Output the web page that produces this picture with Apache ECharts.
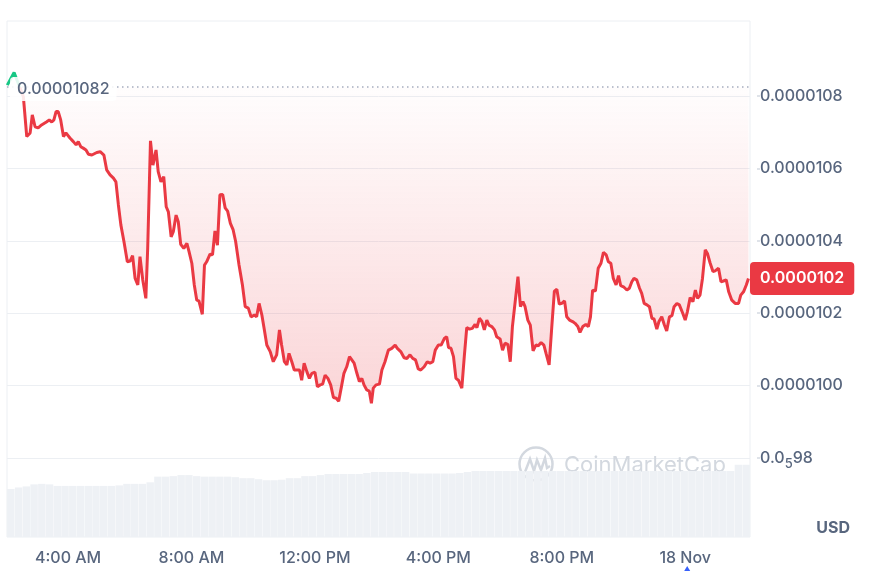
<!DOCTYPE html>
<html>
<head>
<meta charset="utf-8">
<script src="https://cdn.jsdelivr.net/npm/echarts@6/dist/echarts.min.js"></script>
<style>
html,body{margin:0;padding:0;background:#fff;}
#chart{width:869px;height:571px;}
</style>
</head>
<body>
<div id="chart"></div>
<script>
// time in hours since 00:00 17 Nov; price in units of 1e-7 USD
const windowStart = 2.02;
const windowEnd = 26.10;
const priceTimes = [2.03,2.25,2.55,2.66,2.77,2.84,2.93,3.03,3.14,3.31,3.39,3.47,3.54,3.61,3.68,3.76,3.85,3.93,4.06,4.17,4.26,4.33,4.41,4.49,4.58,4.66,4.77,4.93,5.04,5.16,5.25,5.36,5.47,5.55,5.63,5.71,5.81,5.92,6.01,6.09,6.17,6.26,6.33,6.42,6.52,6.58,6.67,6.75,6.85,6.92,7.01,7.10,7.18,7.25,7.34,7.41,7.50,7.57,7.65,7.75,7.85,7.92,8.01,8.09,8.17,8.24,8.35,8.42,8.49,8.60,8.68,8.76,8.84,8.92,9.01,9.09,9.17,9.26,9.35,9.43,9.54,9.65,9.74,9.84,9.93,10.04,10.11,10.19,10.28,10.36,10.44,10.55,10.65,10.76,10.85,10.92,11.01,11.09,11.16,11.25,11.33,11.39,11.50,11.57,11.65,11.74,11.82,11.90,12.00,12.08,12.17,12.25,12.33,12.42,12.51,12.60,12.69,12.77,12.87,12.94,13.03,13.12,13.18,13.27,13.36,13.44,13.52,13.59,13.68,13.76,13.83,13.89,13.98,14.09,14.17,14.27,14.38,14.49,14.60,14.67,14.78,14.89,14.98,15.08,15.17,15.26,15.35,15.43,15.54,15.64,15.73,15.82,15.90,16.00,16.09,16.20,16.27,16.33,16.41,16.49,16.57,16.65,16.76,16.84,16.92,17.01,17.10,17.19,17.25,17.33,17.41,17.49,17.57,17.64,17.73,17.82,17.89,18.00,18.08,18.16,18.25,18.33,18.40,18.49,18.58,18.66,18.74,18.81,18.90,18.98,19.07,19.16,19.24,19.33,19.42,19.49,19.59,19.68,19.76,19.84,19.92,20.00,20.09,20.16,20.25,20.35,20.43,20.52,20.59,20.68,20.78,20.86,20.93,21.00,21.09,21.18,21.27,21.35,21.44,21.51,21.59,21.67,21.76,21.84,21.91,22.00,22.11,22.19,22.27,22.34,22.43,22.52,22.59,22.67,22.76,22.84,22.92,22.99,23.08,23.15,23.24,23.32,23.40,23.49,23.57,23.64,23.73,23.81,23.92,24.00,24.07,24.16,24.25,24.33,24.40,24.48,24.56,24.65,24.72,24.81,24.90,24.97,25.08,25.16,25.24,25.33,25.41,25.51,25.62,25.73,25.80,25.89,25.98,26.05];
const priceValues = [108.30,108.65,107.98,106.88,106.98,107.48,107.15,107.12,107.20,107.29,107.34,107.28,107.34,107.57,107.57,107.34,106.88,106.98,106.84,106.74,106.65,106.74,106.60,106.56,106.51,106.39,106.37,106.44,106.46,106.37,105.96,105.82,105.73,105.63,104.99,104.44,103.98,103.42,103.44,103.59,102.97,102.78,103.56,102.92,102.41,103.80,106.76,106.09,106.51,105.91,105.63,105.77,104.94,104.80,104.11,104.25,104.71,104.53,103.90,103.79,103.93,103.70,103.38,102.78,102.36,102.34,101.97,103.33,103.42,103.63,103.61,104.27,103.88,105.27,105.28,104.91,104.82,104.48,104.30,103.98,103.33,102.78,102.18,102.14,101.90,101.95,101.90,102.27,101.95,101.54,101.12,100.94,100.66,100.85,101.54,101.12,100.66,100.57,100.89,100.66,100.43,100.40,100.43,100.15,100.62,100.38,100.20,100.34,100.37,99.97,100.02,100.04,100.29,100.20,100.02,99.67,99.65,99.57,100.02,100.34,100.52,100.80,100.85,100.62,100.34,100.11,100.20,100.02,99.88,99.85,99.51,99.93,100.02,100.04,100.43,100.66,100.98,101.03,101.12,101.03,100.94,100.77,100.75,100.85,100.75,100.71,100.46,100.43,100.52,100.66,100.62,100.66,100.98,101.12,101.12,101.31,101.35,101.05,101.03,100.80,100.20,100.15,99.93,100.80,101.60,101.56,101.58,101.69,101.60,101.86,101.77,101.54,101.81,101.67,101.63,101.54,101.35,101.29,100.98,101.17,101.14,100.66,101.63,102.32,103.01,102.18,102.32,102.18,101.81,101.67,100.96,101.12,101.10,101.19,101.12,100.89,100.57,101.67,102.61,102.66,102.25,102.27,102.34,101.90,101.81,101.77,101.72,101.63,101.47,101.63,101.69,101.63,101.90,102.64,102.61,103.24,103.38,103.68,103.61,103.42,103.38,102.96,102.78,103.04,102.76,102.73,102.64,102.69,102.87,102.96,102.92,102.69,102.55,102.27,102.23,102.18,101.86,101.84,101.56,101.77,101.90,101.69,101.51,101.90,101.93,102.18,102.27,102.23,102.00,101.81,102.04,102.43,102.32,102.64,102.41,102.50,102.96,103.75,103.65,103.38,103.15,103.17,103.24,102.87,102.89,102.92,102.59,102.36,102.27,102.27,102.50,102.59,102.78,102.96];
// 15-minute volume bars (relative units)
const volumeValues = [9.3,9.6,9.8,10.2,10.3,10.2,9.9,9.9,9.9,9.9,9.9,9.9,9.9,9.9,10.0,10.3,10.3,10.3,10.6,11.7,11.7,11.8,12.0,12.0,11.8,11.7,11.7,11.7,11.7,11.6,11.4,11.4,11.2,11.0,11.0,11.1,11.4,11.4,11.8,11.8,12.0,12.2,12.2,12.2,12.2,12.2,12.4,12.6,12.6,12.6,12.6,12.6,12.3,12.3,12.3,12.3,12.3,12.3,12.4,12.6,12.8,12.8,12.8,12.8,12.8,12.8,12.8,12.8,12.8,12.8,12.8,12.8,12.8,12.8,12.8,12.8,12.8,12.8,12.8,12.8,12.8,12.8,12.8,12.8,12.8,12.8,12.8,12.8,12.8,12.8,12.8,12.8,12.8,12.8,14.0,14.0];
const refPrice = 108.25;
const refPriceLabel = '0.00001082';
const lastPriceLabel = '0.0000102';
const yTickValues = [98,100,102,104,106,108];
const yTickLabels = ['0.0{sub|5}98','0.0000100','0.0000102','0.0000104','0.0000106','0.0000108'];
const xTickValues = [4,8,12,16,20,24];
const xTickLabels = ['4:00 AM','8:00 AM','12:00 PM','4:00 PM','8:00 PM','18 Nov'];
const eventMarkerTime = 24;

const RED = '#ea3943', GREEN = '#16c784', GREY = '#58667e', FONT = 'Inter';
const priceData = priceTimes.map((t, i) => [t, priceValues[i]]);
const lastPrice = priceValues[priceValues.length - 1];

const chart = echarts.init(document.getElementById('chart'), null, {renderer: 'canvas'});
const option = {
  animation: false,
  grid: [
    {left: 7, right: 119, top: 23.6, bottom: 40.6},
    {left: 7, right: 119, top: 21, bottom: 34, show: true, borderColor: '#eceff3', borderWidth: 1}
  ],
  xAxis: [
    {
      gridIndex: 0, type: 'value', min: windowStart, max: windowEnd,
      axisLine: {show: false}, axisTick: {show: false}, splitLine: {show: false},
      axisLabel: {
        customValues: xTickValues,
        formatter: v => xTickLabels[xTickValues.indexOf(Math.round(v))] || '',
        color: GREY, fontFamily: FONT, fontSize: 16, fontWeight: 500, margin: 20
      }
    },
    {gridIndex: 1, type: 'category', data: volumeValues.map((v, i) => i), show: false, boundaryGap: true}
  ],
  yAxis: [
    {
      gridIndex: 0, type: 'value', position: 'right', min: 96, max: 110, interval: 2,
      axisLine: {show: false}, axisTick: {show: false},
      splitLine: {show: true, showMinLine: false, showMaxLine: false, lineStyle: {color: '#eceff3', width: 1}},
      axisLabel: {
        customValues: yTickValues,
        formatter: v => yTickLabels[yTickValues.indexOf(Math.round(v))] || '',
        color: GREY, fontFamily: FONT, fontSize: 16, fontWeight: 500, margin: 10,
        rich: {sub: {fontSize: 13, fontWeight: 500, color: GREY, fontFamily: FONT, padding: [13, 0, 0, 0]}}
      }
    },
    {gridIndex: 1, type: 'value', min: 0, max: 100, show: false},
    {
      gridIndex: 0, type: 'value', position: 'right', offset: 7, min: 96, max: 110, interval: 2,
      axisLine: {show: false}, splitLine: {show: false}, axisLabel: {show: false},
      axisTick: {show: true, length: 3, customValues: yTickValues, lineStyle: {color: '#d5dae2', width: 1.5}}
    }
  ],
  series: [
    {
      type: 'bar', xAxisIndex: 1, yAxisIndex: 1, data: volumeValues, silent: true,
      barCategoryGap: '4%', itemStyle: {color: '#eef1f5'}, z: 1
    },
    {
      id: 'price', type: 'line', xAxisIndex: 0, yAxisIndex: 0, data: priceData, showSymbol: false,
      lineStyle: {width: 3, color: RED}, z: 3,
      areaStyle: {
        origin: refPrice,
        color: new echarts.graphic.LinearGradient(0, 0, 0, 1, [
          {offset: 0, color: 'rgba(234,57,67,0.0)'},
          {offset: 1, color: 'rgba(234,57,67,0.30)'}
        ])
      },
      markLine: {
        silent: true, symbol: 'none',
        data: [
          {yAxis: refPrice, lineStyle: {color: '#a6adbf', width: 1.5, type: [1.5, 3.5]}, label: {show: false}},
          {yAxis: lastPrice, lineStyle: {color: 'rgba(0,0,0,0)', width: 0}, label: {
            show: true, position: 'end', distance: 0, formatter: lastPriceLabel,
            color: '#fff', backgroundColor: RED, borderRadius: 4, padding: [9, 10, 8, 10],
            fontFamily: FONT, fontSize: 16, fontWeight: 600
          }}
        ]
      }
    }
  ]
};
chart.setOption(option);

const refPx = chart.convertToPixel({gridIndex: 0}, [windowStart, refPrice]);
const eventPx = chart.convertToPixel({gridIndex: 0}, [eventMarkerTime, refPrice]);
chart.setOption({
  series: [{}, {
    id: 'price',
    lineStyle: {
      color: new echarts.graphic.LinearGradient(0, refPx[1] - 1, 0, refPx[1] + 1, [
        {offset: 0, color: GREEN}, {offset: 0.5, color: GREEN},
        {offset: 0.5, color: RED}, {offset: 1, color: RED}
      ], true)
    }
  }],
  graphic: [
    {
      type: 'text', x: refPx[0] + 3, y: refPx[1] + 2, z: 100,
      style: {
        text: refPriceLabel, fill: GREY, font: '500 16px Inter', verticalAlign: 'middle',
        backgroundColor: 'rgba(255,255,255,0.88)', padding: [4, 7, 4, 7], borderRadius: 4
      }
    },
    {
      type: 'text', right: 19, top: 520, z: 100,
      style: {text: 'USD', fill: GREY, font: 'bold 16px Inter'}
    },
    {
      type: 'polygon', z: 100, silent: true,
      shape: {points: [[eventPx[0] - 1, 571], [eventPx[0] + 5, 571], [eventPx[0] + 2, 566]]},
      style: {fill: '#3861fb'}
    },
    {
      type: 'group', left: 517, top: 445, z: 0, silent: true,
      children: [
        {type: 'circle', shape: {cx: 18, cy: 18, r: 16.5}, style: {fill: 'none', stroke: '#d3d8df', lineWidth: 2.5}},
        {type: 'polyline', shape: {points: [[7, 26], [12, 13], [16, 25], [19, 14], [23, 24], [27, 12], [29, 22], [32, 20]]},
          style: {fill: 'none', stroke: '#d3d8df', lineWidth: 2.5}},
        {type: 'text', x: 46, y: 19, style: {text: 'CoinMarketCap', fill: '#d3d8df', font: '22px Inter', verticalAlign: 'middle'}}
      ]
    }
  ]
});
</script>
</body>
</html>
